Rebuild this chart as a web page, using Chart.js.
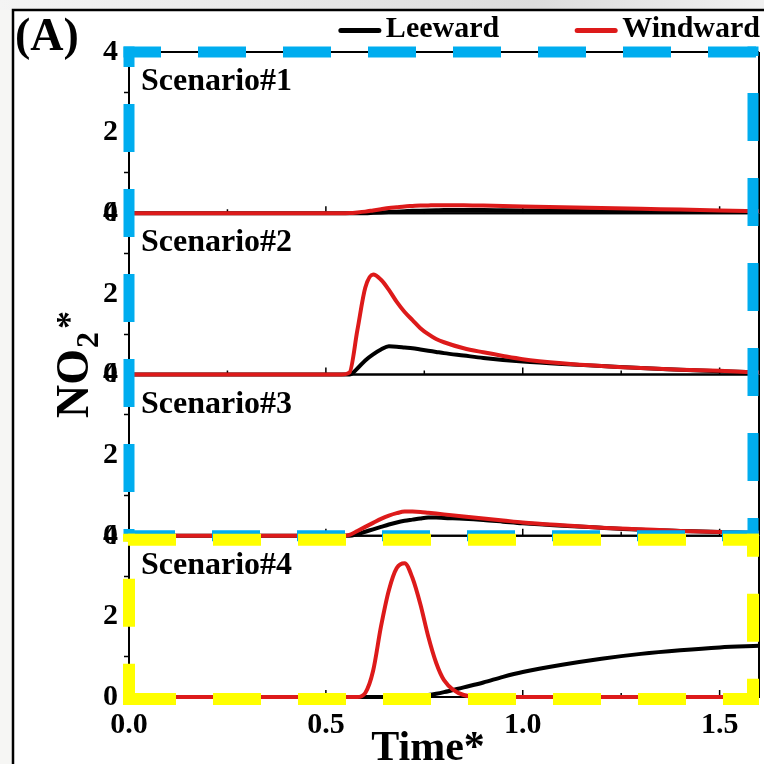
<!DOCTYPE html>
<html>
<head>
<meta charset="utf-8">
<script src="https://cdn.jsdelivr.net/npm/chart.js"></script>
<style>
  html, body { margin: 0; padding: 0; background: #fff; }
</style>
</head>
<body>
<canvas id="no2Chart" width="764" height="764"></canvas>

<script>

// sample times (dimensionless)
const time = [0, 0.5, 0.54, 0.56, 0.58, 0.6, 0.62, 0.64, 0.66, 0.68, 0.7, 0.72, 0.74, 0.76, 0.78, 0.8, 0.85, 0.9, 0.95, 1.0, 1.1, 1.2, 1.3, 1.4, 1.5, 1.6];

// NO2* per scenario
const s1Lee  = [0, 0, 0, 0, 0, 0, 0.01, 0.02, 0.03, 0.04, 0.05, 0.06, 0.065, 0.07, 0.075, 0.08, 0.08, 0.08, 0.075, 0.07, 0.06, 0.05, 0.045, 0.04, 0.035, 0.03];
const s1Wind = [0, 0, 0, 0.005, 0.02, 0.04, 0.07, 0.1, 0.13, 0.15, 0.17, 0.18, 0.19, 0.195, 0.2, 0.2, 0.2, 0.19, 0.18, 0.17, 0.15, 0.13, 0.11, 0.09, 0.07, 0.05];
const s2Lee  = [0, 0, 0, 0, 0.15, 0.35, 0.5, 0.62, 0.7, 0.69, 0.67, 0.65, 0.62, 0.59, 0.56, 0.53, 0.47, 0.41, 0.36, 0.32, 0.26, 0.21, 0.16, 0.12, 0.08, 0.05];
const s2Wind = [0, 0, 0, 0.05, 1.1, 2.15, 2.48, 2.35, 2.1, 1.8, 1.55, 1.35, 1.15, 1.0, 0.88, 0.8, 0.65, 0.55, 0.46, 0.38, 0.28, 0.21, 0.16, 0.12, 0.09, 0.05];
const s3Lee  = [0, 0, 0, 0, 0.04, 0.1, 0.16, 0.22, 0.28, 0.33, 0.37, 0.4, 0.43, 0.45, 0.45, 0.44, 0.42, 0.39, 0.35, 0.31, 0.25, 0.2, 0.15, 0.12, 0.09, 0.07];
const s3Wind = [0, 0, 0, 0.02, 0.12, 0.22, 0.32, 0.42, 0.5, 0.56, 0.6, 0.6, 0.59, 0.57, 0.55, 0.53, 0.48, 0.43, 0.38, 0.33, 0.26, 0.2, 0.16, 0.12, 0.09, 0.07];
const s4Lee  = [0, 0, 0, 0, 0, 0, 0, 0, 0, 0, 0, 0.01, 0.03, 0.05, 0.08, 0.12, 0.24, 0.36, 0.5, 0.62, 0.8, 0.95, 1.07, 1.16, 1.23, 1.27];
const s4Wind = [0, 0, 0, 0, 0, 0.1, 0.65, 1.75, 2.65, 3.2, 3.32, 2.95, 2.3, 1.5, 0.85, 0.42, 0.05, 0, 0, 0, 0, 0, 0, 0, 0, 0];

const scenarios = ['Scenario#1', 'Scenario#2', 'Scenario#3', 'Scenario#4'];
const seriesNames = ['Leeward', 'Windward'];
const seriesColors = ['#000000', '#dd1a1a'];

const xTicks = [0, 0.25, 0.5, 0.75, 1.0, 1.25, 1.5];
const xLabelTicks = [0, 0.5, 1.0, 1.5];
const yTicks = [0, 1, 2, 3, 4];
const yLabelTicks = [0, 2, 4];

const leeData = [s1Lee, s2Lee, s3Lee, s4Lee];
const windData = [s1Wind, s2Wind, s3Wind, s4Wind];
const panelIds = ['y1', 'y2', 'y3', 'y4'];

const serif = '"Liberation Serif", "Times New Roman", serif';
const pts = arr => time.map((t, i) => ({x: t, y: arr[i]}));

// windward first so the red lines sit on top of the black ones
const datasets = [];
panelIds.forEach((id, p) => {
  datasets.push({label: seriesNames[1], data: pts(windData[p]), yAxisID: id, borderColor: seriesColors[1]});
  datasets.push({label: seriesNames[0], data: pts(leeData[p]), yAxisID: id, borderColor: seriesColors[0]});
});
datasets.forEach(d => Object.assign(d, {
  borderWidth: 4, pointRadius: 0, cubicInterpolationMode: 'monotone', fill: false, clip: 8
}));

function yAxis(weight) {
  return {
    type: 'linear', position: 'left', stack: 'panels', stackWeight: 1, weight: weight,
    min: 0, max: 4,
    afterBuildTicks: s => { s.ticks = yTicks.map(v => ({value: v})); },
    afterFit: s => { s.width = 129; },
    ticks: {
      autoSkip: false, padding: 6, color: '#000',
      font: {family: serif, size: 30, weight: 'bold'},
      callback: v => yLabelTicks.includes(v) ? String(v) : ''
    },
    grid: {drawOnChartArea: false, tickLength: 5, color: '#000', tickWidth: 1.5},
    border: {display: true, color: '#000', width: 2}
  };
}

function dashLine(ctx, x1, y1, x2, y2, phase0, color, w) {
  const period = 85, on = 48;
  const start = (x1 === x2) ? y1 : x1;
  ctx.save();
  ctx.strokeStyle = color;
  ctx.lineWidth = w;
  ctx.lineCap = 'butt';
  ctx.setLineDash([on, period - on]);
  ctx.lineDashOffset = ((start - phase0) % period + period) % period;
  ctx.beginPath();
  ctx.moveTo(x1, y1);
  ctx.lineTo(x2, y2);
  ctx.stroke();
  ctx.restore();
}

const decor = {
  id: 'decor',
  beforeDraw(chart) {
    const ctx = chart.ctx;
    ctx.save();
    ctx.fillStyle = '#fff';
    ctx.fillRect(0, 0, chart.width, chart.height);
    const g = ctx.createLinearGradient(0, 0, chart.width, 0);
    g.addColorStop(0, '#f4f4f4');
    g.addColorStop(0.7, '#dcdcdc');
    g.addColorStop(1, '#f0f0f0');
    ctx.fillStyle = g;
    ctx.fillRect(0, 0, chart.width, 10);
    ctx.fillStyle = '#f6f6f4';
    ctx.fillRect(0, 10, 12, chart.height);
    // outer frame
    ctx.strokeStyle = '#000';
    ctx.lineWidth = 2.5;
    ctx.beginPath();
    ctx.moveTo(chart.width, 10);
    ctx.lineTo(13, 10);
    ctx.lineTo(13, chart.height);
    ctx.stroke();
    ctx.restore();
  },
  beforeDatasetsDraw(chart) {
    const ctx = chart.ctx;
    const {left, right} = chart.chartArea;
    const xs = chart.scales.x;
    ctx.save();
    ctx.strokeStyle = '#000';
    panelIds.forEach(id => {
      const sc = chart.scales[id];
      const yb = sc.getPixelForValue(0);
      const yt = sc.getPixelForValue(4);
      ctx.lineWidth = 2;
      ctx.beginPath();
      ctx.moveTo(left, yb); ctx.lineTo(right, yb);
      ctx.moveTo(left, yt); ctx.lineTo(right, yt);
      ctx.moveTo(right, yt); ctx.lineTo(right, yb);
      ctx.stroke();
      ctx.lineWidth = 1.5;
      xTicks.forEach(v => {
        const px = xs.getPixelForValue(v);
        const len = xLabelTicks.includes(v) ? 7 : 4;
        ctx.beginPath();
        ctx.moveTo(px, yb); ctx.lineTo(px, yb - len);
        ctx.stroke();
      });
    });
    ctx.restore();
  },
  afterDatasetsDraw(chart) {
    const ctx = chart.ctx;
    const {left, right} = chart.chartArea;
    ctx.save();
    ctx.fillStyle = '#000';
    ctx.font = 'bold 32px ' + serif;
    ctx.textAlign = 'left';
    ctx.textBaseline = 'alphabetic';
    panelIds.forEach((id, p) => {
      const yt = chart.scales[id].getPixelForValue(4);
      ctx.fillText(scenarios[p], left + 12, yt + 38);
    });
    ctx.restore();

    // blue frame round scenarios 1-3
    const bT = chart.scales.y1.getPixelForValue(4);
    const bB = chart.scales.y3.getPixelForValue(0);
    const R = right - 6;
    const blue = '#00adef', bw = 11;
    dashLine(ctx, left - bw / 2, bT, R + bw / 2, bT, left - 16, blue, bw);
    dashLine(ctx, left, bT - bw / 2, left, bB + bw / 2, bT - 33, blue, bw);
    dashLine(ctx, R, bT - bw / 2, R, bB + bw / 2, bT - 44, blue, bw);
    dashLine(ctx, left - bw / 2, bB, R + bw / 2, bB, left - 2, blue, bw);

    // yellow frame round scenario 4
    const yT = chart.scales.y4.getPixelForValue(4) + 4;
    const yB = chart.scales.y4.getPixelForValue(0) + 2;
    const yel = '#ffff00', yw = 12;
    dashLine(ctx, left - yw / 2, yT, R + yw / 2, yT, left - 1, yel, yw);
    dashLine(ctx, left - yw / 2, yB, R + yw / 2, yB, left - 1, yel, yw);
    dashLine(ctx, left, yT - yw / 2, left, yB + yw / 2, yT - 46, yel, yw);
    dashLine(ctx, R, yT - yw / 2, R, yB + yw / 2, yT - 31, yel, yw);
  },
  afterDraw(chart) {
    const ctx = chart.ctx;
    const {left, right} = chart.chartArea;
    ctx.save();
    ctx.fillStyle = '#000';
    ctx.textBaseline = 'alphabetic';

    // panel tag
    ctx.font = 'bold 46px ' + serif;
    ctx.textAlign = 'left';
    ctx.fillText('(A)', 15, 50);

    // legend
    ctx.font = 'bold 30px ' + serif;
    const wW = ctx.measureText(seriesNames[1]).width;
    const wL = ctx.measureText(seriesNames[0]).width;
    const xW = right + 1 - wW;
    const xL = xW - 46 - 77 - wL;
    [[xL, 0], [xW, 1]].forEach(([tx, k]) => {
      ctx.strokeStyle = seriesColors[k];
      ctx.lineWidth = 5;
      ctx.lineCap = 'round';
      ctx.beginPath();
      ctx.moveTo(tx - 45, 30.5); ctx.lineTo(tx - 7, 30.5);
      ctx.stroke();
      ctx.fillText(seriesNames[k], tx, 37);
    });

    // x title
    ctx.font = 'bold 42px ' + serif;
    ctx.textAlign = 'center';
    ctx.fillText('Time*', (left + right) / 2 - 16, 760);

    // y title NO2*
    ctx.translate(88, 418);
    ctx.rotate(-Math.PI / 2);
    ctx.textAlign = 'left';
    ctx.font = 'bold 46px ' + serif;
    ctx.fillText('NO', 0, 0);
    const wNO = ctx.measureText('NO').width;
    ctx.font = 'bold 32px ' + serif;
    ctx.fillText('2', wNO + 1, 10);
    const w2 = ctx.measureText('2').width;
    ctx.font = 'bold 36px ' + serif;
    ctx.fillText('*', wNO + w2 + 4, -7);
    ctx.restore();
  }
};

new Chart(document.getElementById('no2Chart'), {
  type: 'line',
  data: {datasets: datasets},
  options: {
    responsive: false,
    animation: false,
    devicePixelRatio: 1,
    layout: {padding: {top: 52, right: 5, bottom: 0, left: 0}},
    plugins: {legend: {display: false}, tooltip: {enabled: false}},
    scales: {
      x: {
        type: 'linear', position: 'bottom', min: 0, max: 1.6,
        afterBuildTicks: s => { s.ticks = xTicks.map(v => ({value: v})); },
        afterFit: s => { s.height = 67; },
        ticks: {
          autoSkip: false, maxRotation: 0, padding: 10, color: '#000',
          font: {family: serif, size: 30, weight: 'bold'},
          callback: v => xLabelTicks.includes(v) ? v.toFixed(1) : ''
        },
        grid: {drawOnChartArea: false, drawTicks: false},
        border: {display: true, color: '#000', width: 2}
      },
      y1: yAxis(4),
      y2: yAxis(3),
      y3: yAxis(2),
      y4: yAxis(1)
    }
  },
  plugins: [decor]
});

</script>
</body>
</html>
